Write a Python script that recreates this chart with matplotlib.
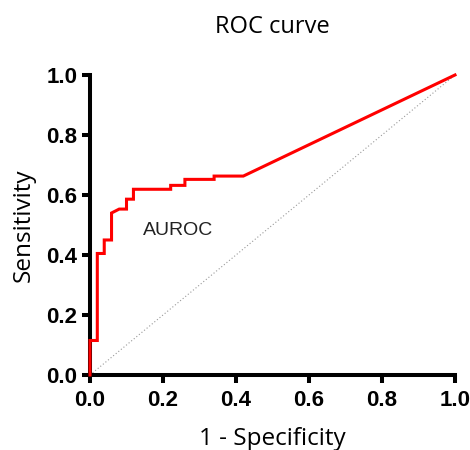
import matplotlib.pyplot as plt

# ROC operating points (1 - specificity, sensitivity)
fpr = [0.0, 0.0, 0.02, 0.02, 0.039, 0.039, 0.059, 0.059, 0.080, 0.10, 0.10,
       0.119, 0.119, 0.221, 0.221, 0.260, 0.260, 0.340, 0.340, 0.42, 1.0]
tpr = [0.0, 0.115, 0.115, 0.405, 0.405, 0.45, 0.45, 0.54, 0.553, 0.553, 0.586,
       0.586, 0.619, 0.619, 0.632, 0.632, 0.652, 0.652, 0.663, 0.663, 1.0]

ticks = [0.0, 0.2, 0.4, 0.6, 0.8, 1.0]
tick_labels = ["0.0", "0.2", "0.4", "0.6", "0.8", "1.0"]

fig = plt.figure(figsize=(4.7, 4.5), dpi=100, facecolor="white")
ax = fig.add_axes([0.1915, 0.1667, 0.7766, 0.6667])

# chance line
ax.plot([0, 1], [0, 1], color="#999999", lw=0.8, ls=(0, (1, 2)), zorder=1)
ax.plot(fpr, tpr, color="#ff0000", lw=2.2, zorder=3, clip_on=False,
        solid_joinstyle="miter")

ax.set_xlim(0, 1)
ax.set_ylim(0, 1)
ax.spines["top"].set_visible(False)
ax.spines["right"].set_visible(False)
for side in ["left", "bottom"]:
    ax.spines[side].set_linewidth(2.9)
ax.set_xticks(ticks)
ax.set_yticks(ticks)
ax.set_xticklabels(tick_labels)
ax.set_yticklabels(tick_labels)
ax.tick_params(width=2.9, length=6, direction="out", pad=3)
ax.tick_params(axis="x", pad=5)
for lbl in ax.get_xticklabels() + ax.get_yticklabels():
    lbl.set_fontfamily("Liberation Sans")
    lbl.set_fontweight("bold")
    lbl.set_fontsize(16)

ax.set_title("ROC curve", fontfamily="Open Sans", fontsize=17, pad=30)
ax.set_xlabel("1 - Specificity", fontfamily="Open Sans", fontsize=17.5, labelpad=11)
ax.set_ylabel("Sensitivity", fontfamily="Open Sans", fontsize=17.5, labelpad=8)

ax.text(0.241, 0.483, "AUROC", fontfamily="Liberation Sans", fontsize=14,
        ha="center", va="center", color="#222222")

fig.savefig("out.png", dpi=100, facecolor="white")
plt.close()
